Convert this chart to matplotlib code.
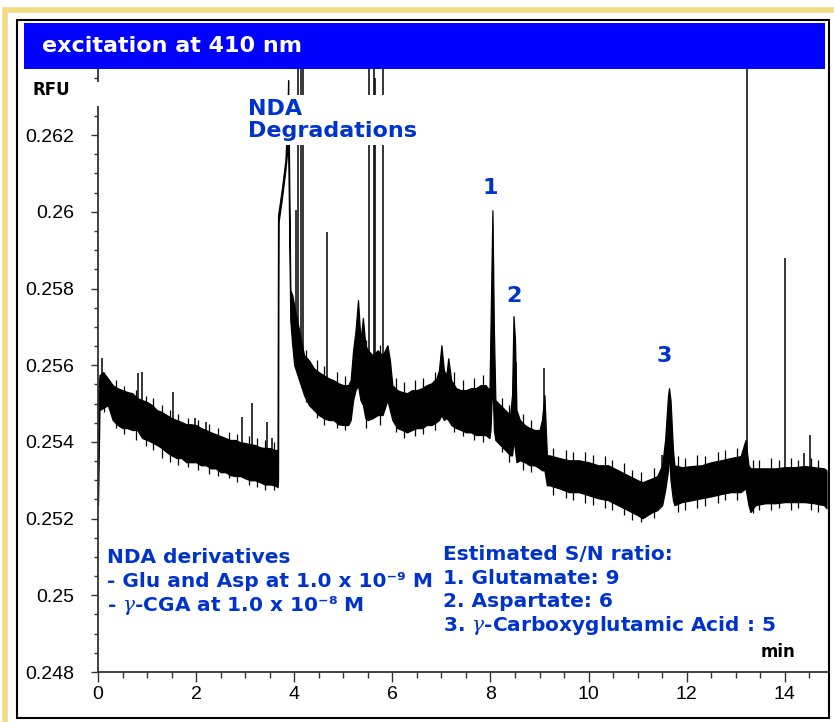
import matplotlib
matplotlib.use("Agg")
import matplotlib.pyplot as plt
from matplotlib.patches import Rectangle
from matplotlib.ticker import MultipleLocator

plt.rcParams["mathtext.fontset"] = "custom"
plt.rcParams["mathtext.rm"] = "DejaVu Sans:bold"
plt.rcParams["mathtext.bf"] = "DejaVu Sans:bold"
plt.rcParams["mathtext.it"] = "DejaVu Serif:italic"

# ── colours ────────────────────────────────────────────────────────────────
BLUE_BAR = "#0000FF"
BLUE_TXT = "#0033CC"
BEIGE    = "#F0DC82"
AXIS     = "#333333"

# ── electropherogram: noise band envelope (min, RFU) ───────────────────────
time = [0.00, 0.03, 0.10, 0.20, 0.30, 0.40, 0.50, 0.60, 0.70, 0.80, 0.90,
        1.00, 1.10, 1.20, 1.30, 1.40, 1.50, 1.60, 1.70, 1.80, 1.90, 2.00,
        2.10, 2.20, 2.30, 2.40, 2.50, 2.60, 2.70, 2.80, 2.90, 3.00, 3.10,
        3.20, 3.30, 3.40, 3.50, 3.60, 3.66, 3.67, 3.68, 3.75, 3.82, 3.86,
        3.875, 3.89, 3.92, 3.96, 4.00, 4.10, 4.20, 4.30, 4.40, 4.50, 4.60,
        4.70, 4.80, 4.90, 5.00, 5.10, 5.15, 5.20, 5.25, 5.30, 5.35, 5.40,
        5.45, 5.50, 5.60, 5.70, 5.80, 5.90, 5.95, 6.00, 6.10, 6.20, 6.30,
        6.40, 6.50, 6.60, 6.70, 6.80, 6.90, 6.95, 7.00, 7.05, 7.10, 7.14,
        7.20, 7.30, 7.40, 7.50, 7.60, 7.70, 7.80, 7.90, 7.98, 8.00, 8.04,
        8.07, 8.10, 8.20, 8.30, 8.40, 8.44, 8.47, 8.50, 8.53, 8.60, 8.70,
        8.80, 8.90, 9.00, 9.05, 9.10, 9.15, 9.20, 9.40, 9.60, 9.80, 10.00,
        10.20, 10.40, 10.60, 10.80, 11.00, 11.10, 11.20, 11.30, 11.40, 11.50,
        11.56, 11.62, 11.64, 11.67, 11.72, 11.75, 11.90, 12.10, 12.30, 12.50,
        12.70, 12.90, 13.10, 13.20, 13.26, 13.30, 13.40, 13.60, 13.80, 14.00,
        14.20, 14.40, 14.60, 14.80, 14.85]

upper = [0.25509, 0.25574, 0.25582, 0.25566, 0.25548, 0.25540, 0.25535, 0.25530,
         0.25527, 0.25514, 0.25509, 0.25504, 0.25496, 0.25483, 0.25478, 0.25470,
         0.25462, 0.25457, 0.25452, 0.25446, 0.25446, 0.25444, 0.25436, 0.25431,
         0.25425, 0.25420, 0.25415, 0.25410, 0.25405, 0.25405, 0.25399, 0.25397,
         0.25394, 0.25392, 0.25386, 0.25384, 0.25384, 0.25379, 0.25379, 0.25991,
         0.25999, 0.26062, 0.26135, 0.26239, 0.26343, 0.26187, 0.25796, 0.25783,
         0.25756, 0.25691, 0.25626, 0.25613, 0.25592, 0.25582, 0.25574, 0.25566,
         0.25561, 0.25553, 0.25548, 0.25548, 0.25561, 0.25639, 0.25691, 0.25770,
         0.25665, 0.25723, 0.25652, 0.25639, 0.25626, 0.25639, 0.25626, 0.25652,
         0.25613, 0.25548, 0.25535, 0.25530, 0.25527, 0.25535, 0.25535, 0.25540,
         0.25548, 0.25553, 0.25566, 0.25587, 0.25652, 0.25587, 0.25574, 0.25618,
         0.25561, 0.25540, 0.25535, 0.25535, 0.25540, 0.25540, 0.25548, 0.25548,
         0.25535, 0.25691, 0.26004, 0.25691, 0.25509, 0.25496, 0.25483, 0.25470,
         0.25522, 0.25728, 0.25665, 0.25483, 0.25457, 0.25444, 0.25436, 0.25431,
         0.25431, 0.25457, 0.25522, 0.25365, 0.25365, 0.25358, 0.25352, 0.25352,
         0.25347, 0.25339, 0.25339, 0.25326, 0.25313, 0.25300, 0.25295, 0.25300,
         0.25305, 0.25311, 0.25339, 0.25405, 0.25522, 0.25540, 0.25509, 0.25379,
         0.25339, 0.25334, 0.25337, 0.25339, 0.25347, 0.25352, 0.25358, 0.25363,
         0.25405, 0.25339, 0.25331, 0.25331, 0.25331, 0.25331, 0.25334, 0.25334,
         0.25337, 0.25334, 0.25331, 0.25326]

lower = [0.25235, 0.25483, 0.25488, 0.25496, 0.25457, 0.25444, 0.25436, 0.25436,
         0.25431, 0.25431, 0.25410, 0.25405, 0.25399, 0.25392, 0.25384, 0.25373,
         0.25365, 0.25358, 0.25358, 0.25347, 0.25347, 0.25347, 0.25339, 0.25339,
         0.25331, 0.25331, 0.25321, 0.25321, 0.25313, 0.25311, 0.25311, 0.25305,
         0.25300, 0.25300, 0.25295, 0.25289, 0.25289, 0.25287, 0.25282, 0.25300,
         0.25973, 0.26036, 0.26109, 0.26161, 0.26187, 0.26030, 0.25717, 0.25652,
         0.25600, 0.25561, 0.25522, 0.25496, 0.25483, 0.25470, 0.25462, 0.25457,
         0.25457, 0.25446, 0.25444, 0.25444, 0.25457, 0.25509, 0.25535, 0.25548,
         0.25509, 0.25496, 0.25462, 0.25457, 0.25462, 0.25470, 0.25470, 0.25509,
         0.25483, 0.25457, 0.25436, 0.25431, 0.25425, 0.25431, 0.25436, 0.25436,
         0.25444, 0.25444, 0.25452, 0.25457, 0.25470, 0.25457, 0.25462, 0.25457,
         0.25444, 0.25436, 0.25431, 0.25425, 0.25425, 0.25418, 0.25418, 0.25418,
         0.25410, 0.25431, 0.25561, 0.25431, 0.25405, 0.25392, 0.25379, 0.25365,
         0.25365, 0.25405, 0.25379, 0.25347, 0.25352, 0.25347, 0.25339, 0.25339,
         0.25331, 0.25326, 0.25326, 0.25287, 0.25287, 0.25279, 0.25269, 0.25269,
         0.25261, 0.25253, 0.25248, 0.25235, 0.25222, 0.25209, 0.25201, 0.25209,
         0.25217, 0.25222, 0.25235, 0.25274, 0.25326, 0.25379, 0.25300, 0.25248,
         0.25235, 0.25243, 0.25248, 0.25253, 0.25258, 0.25264, 0.25269, 0.25269,
         0.25279, 0.25235, 0.25217, 0.25235, 0.25240, 0.25240, 0.25243, 0.25243,
         0.25243, 0.25240, 0.25235, 0.25227]

# noise excursions poking out of the band (min, low RFU, high RFU)
noise_t = [0.13, 0.37, 0.52, 0.78, 0.97, 1.12, 1.31, 1.47, 1.63, 1.84, 2.03,
           2.27, 2.44, 2.68, 2.83, 3.07, 3.24, 3.41, 3.58,
           4.23, 4.46, 4.61, 4.87, 5.04, 5.46, 5.74,
           6.07, 6.23, 6.47, 6.62, 6.86, 7.26, 7.43, 7.67, 7.84,
           8.24, 8.38, 8.66, 8.83,
           9.28, 9.53, 9.68, 9.93, 10.08, 10.33, 10.47, 10.72, 10.88, 11.06, 11.34,
           11.82, 11.97, 12.22, 12.38, 12.63, 12.78, 13.03,
           13.36, 13.48, 13.72, 13.88, 14.12, 14.27, 14.53, 14.68]
noise_hi = [0.25582, 0.25561, 0.25545, 0.25535, 0.25519, 0.25514, 0.25496, 0.25483,
            0.25472, 0.25462, 0.25457, 0.25446, 0.25436, 0.25425, 0.25420, 0.25415,
            0.25410, 0.25405, 0.25399,
            0.25639, 0.25613, 0.25597, 0.25582, 0.25571, 0.25665, 0.25652,
            0.25566, 0.25556, 0.25561, 0.25566, 0.25582, 0.25582, 0.25561, 0.25566,
            0.25574,
            0.25514, 0.25496, 0.25472, 0.25457,
            0.25384, 0.25379, 0.25373, 0.25373, 0.25365, 0.25363, 0.25352, 0.25344,
            0.25326, 0.25321, 0.25331,
            0.25363, 0.25358, 0.25365, 0.25363, 0.25373, 0.25379, 0.25384,
            0.25352, 0.25352, 0.25358, 0.25352, 0.25358, 0.25352, 0.25358, 0.25352]
noise_lo = [0.25478, 0.25436, 0.25420, 0.25405, 0.25389, 0.25379, 0.25358, 0.25347,
            0.25339, 0.25334, 0.25326, 0.25316, 0.25311, 0.25305, 0.25295, 0.25287,
            0.25282, 0.25274, 0.25274,
            0.25504, 0.25462, 0.25444, 0.25436, 0.25431, 0.25436, 0.25444,
            0.25425, 0.25410, 0.25415, 0.25420, 0.25431, 0.25425, 0.25415, 0.25405,
            0.25399,
            0.25373, 0.25347, 0.25326, 0.25321,
            0.25261, 0.25253, 0.25248, 0.25240, 0.25235, 0.25227, 0.25222, 0.25209,
            0.25196, 0.25191, 0.25201,
            0.25217, 0.25222, 0.25227, 0.25232, 0.25240, 0.25248, 0.25248,
            0.25214, 0.25222, 0.25222, 0.25227, 0.25222, 0.25227, 0.25222, 0.25217]

# narrow spikes riding on the baseline
spike_t    = [0.08, 0.82, 0.89, 1.53, 1.98, 2.21, 2.94, 3.14, 3.45, 3.54,
              4.04, 4.08, 4.14, 4.17, 4.67, 5.52, 5.62, 5.64, 5.81,
              8.53, 9.10, 11.50, 13.23, 14.00, 14.39, 14.51]
spike_base = [0.25535, 0.25483, 0.25478, 0.25418, 0.25405, 0.25392, 0.25358, 0.25352,
              0.25339, 0.25339, 0.25665, 0.25639, 0.25639, 0.25639, 0.25514, 0.25548,
              0.25548, 0.25548, 0.25548, 0.25405, 0.25379, 0.25300, 0.25326, 0.25287,
              0.25287, 0.25287]
spike_top  = [0.25618, 0.25579, 0.25582, 0.25530, 0.25462, 0.25452, 0.25465, 0.25501,
              0.25452, 0.25410, 0.26004, 0.2650, 0.2650, 0.2650, 0.25947, 0.2650,
              0.2650, 0.26350, 0.2650, 0.25608, 0.25592, 0.25365, 0.2650, 0.25879,
              0.25371, 0.25418]

# peak labels
peak_names = ["1", "2", "3"]
peak_x     = [8.00, 8.47, 11.55]
peak_y     = [0.26062, 0.25780, 0.25624]

y_major  = [0.248, 0.250, 0.252, 0.254, 0.256, 0.258, 0.260, 0.262]
y_labels = ["0.248", "0.25", "0.252", "0.254", "0.256", "0.258", "0.26", "0.262"]
x_major  = [0, 2, 4, 6, 8, 10, 12, 14]
x_labels = ["0", "2", "4", "6", "8", "10", "12", "14"]

conditions = ["NDA derivatives",
              "- Glu and Asp at 1.0 x 10\u207b\u2079 M",
              r"- $\gamma$-CGA at 1.0 x 10" + "\u207b\u2078 M"]
sn_lines = ["Estimated S/N ratio:",
            "1. Glutamate: 9",
            "2. Aspartate: 6",
            r"3. $\gamma$-Carboxyglutamic Acid : 5"]

W, H = 834, 722


def fx(px):
    return px / W


def fy(py):
    return 1 - py / H


fig = plt.figure(figsize=(W / 100, H / 100), dpi=100)
fig.patch.set_facecolor("white")

ax = fig.add_axes([fx(98), fy(672), fx(827) - fx(98), fy(68) - fy(672)])
ax.fill_between(time, lower, upper, color="black", lw=0.9, zorder=2)
ax.vlines(noise_t, noise_lo, noise_hi, color="black", lw=0.9, zorder=2)
ax.vlines(spike_t, spike_base, spike_top, color="black", lw=1.1, zorder=2)

for name, px_, py_ in zip(peak_names, peak_x, peak_y):
    ax.text(px_, py_, name, ha="center", va="center", fontsize=16,
            fontweight="bold", color=BLUE_TXT)

ax.set_xlim(0, 14.86)
ax.set_ylim(0.248, 0.26375)
ax.tick_params(axis="y", which="major", length=5, width=1, color=AXIS, pad=12)
ax.tick_params(axis="y", which="minor", length=3, width=1, color=AXIS)
ax.tick_params(axis="x", which="major", length=7, width=1, color=AXIS, pad=3)
ax.tick_params(axis="x", which="minor", length=4, width=1, color=AXIS)
ax.set_yticks(y_major, y_labels, fontsize=14, fontfamily="Liberation Sans")
ax.set_xticks(x_major, x_labels, fontsize=14, fontfamily="Liberation Sans")
ax.yaxis.set_minor_locator(MultipleLocator(0.0005))
ax.xaxis.set_minor_locator(MultipleLocator(0.5))
ax.spines[["top", "right"]].set_visible(False)
for s in ("left", "bottom"):
    ax.spines[s].set_color(AXIS)
    ax.spines[s].set_linewidth(1.3)

# ── slide furniture ────────────────────────────────────────────────────────
fig.patches.append(Rectangle((fx(4.5), fy(740)), fx(860), fy(10) - fy(740),
                             transform=fig.transFigure, fill=False,
                             edgecolor=BEIGE, lw=4, zorder=5))
fig.patches.append(Rectangle((fx(17), fy(718)), fx(829) - fx(17), fy(20) - fy(718),
                             transform=fig.transFigure, fill=False,
                             edgecolor="black", lw=1.5, zorder=5))
fig.patches.append(Rectangle((fx(24), fy(69)), fx(825) - fx(24), fy(23) - fy(69),
                             transform=fig.transFigure, facecolor=BLUE_BAR,
                             edgecolor="none", zorder=5))
fig.text(fx(42), fy(46), "excitation at 410 nm", color="white", fontsize=16,
         fontweight="bold", va="center", ha="left", zorder=6)

# white patch behind the RFU label (covers the axis line)
fig.patches.append(Rectangle((fx(25), fy(106)), fx(101) - fx(25), fy(82) - fy(106),
                             transform=fig.transFigure, facecolor="white",
                             edgecolor="none", zorder=5))
fig.text(fx(32), fy(90), "RFU", fontsize=12, fontweight="bold", color="black",
         va="center", ha="left", zorder=6)
fig.text(fx(761), fy(652), "min", fontsize=12, fontweight="bold", color="black",
         va="center", ha="left", zorder=6)

fig.text(fx(248), fy(120), "NDA\nDegradations", fontsize=16, fontweight="bold",
         color=BLUE_TXT, va="center", ha="left", linespacing=1.15, zorder=6,
         bbox=dict(facecolor="white", edgecolor="none", pad=3))

for i, line in enumerate(conditions):
    fig.text(fx(107), fy(563 + 24 * i), line, fontsize=14.5, fontweight="bold",
             color=BLUE_TXT, va="baseline", ha="left", zorder=6)
for i, line in enumerate(sn_lines):
    fig.text(fx(443), fy(560 + 23.7 * i), line, fontsize=14.5, fontweight="bold",
             color=BLUE_TXT, va="baseline", ha="left", zorder=6)

fig.savefig("out.png", dpi=100, facecolor=fig.get_facecolor())
